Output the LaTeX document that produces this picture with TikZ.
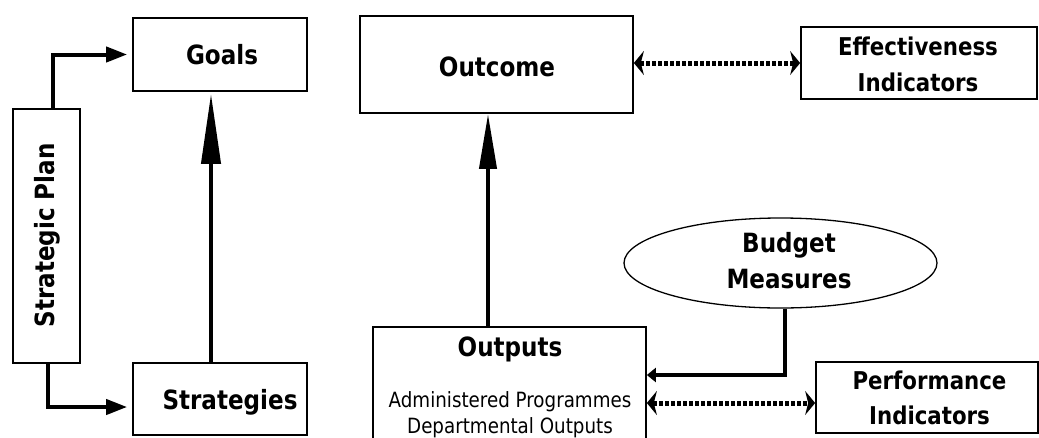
\documentclass[tikz,border=0pt]{standalone}
\usepackage{fontspec}
\setmainfont{DejaVu Sans}[FakeStretch=0.87]
\usetikzlibrary{arrows.meta,shapes.geometric}
\begin{document}
\begin{tikzpicture}[x=1pt,y=-1pt,
  box/.style={draw,line width=1.7pt,inner sep=0pt},
  labbig/.style={font=\fontsize{26.5}{30}\selectfont\bfseries,inner sep=0pt,anchor=base},
  labmid/.style={font=\fontsize{24.5}{28}\selectfont\bfseries,inner sep=0pt,anchor=base},
  labreg/.style={font=\fontsize{21}{24}\selectfont,inner sep=0pt,anchor=base},
  elbowarr/.style={line width=4pt,-{Triangle[length=21pt,width=15pt]}},
  uparrA/.style={line width=4pt,-{Triangle[length=70pt,width=19pt]}},
  uparrB/.style={line width=4pt,-{Triangle[length=55pt,width=17pt]}},
  budarr/.style={line width=3.5pt,-{Triangle[length=9pt,width=14pt]}},
  dotarr/.style={line width=5pt,dash pattern=on 3.5pt off 2.5pt,
    {Stealth[length=10pt,width=24pt,inset=3pt]}-{Stealth[length=10pt,width=24pt,inset=3pt]}}]
\useasboundingbox (0,0) rectangle (1039,437);
\clip (0,0) rectangle (1039,437);

% boxes
\node[box,minimum width=174pt,minimum height=73pt] (goals) at (220,54.5) {};
\node[box,minimum width=174pt,minimum height=72pt] (strategies) at (220,399) {};
\node[box,minimum width=67pt,minimum height=254pt] (plan) at (46.5,236) {};
\node[box,minimum width=273pt,minimum height=97pt] (outcome) at (496.5,64.5) {};
\node[box,minimum width=236pt,minimum height=72pt] (effect) at (919,63) {};
\node[box,minimum width=273pt,minimum height=123pt] (outputs) at (509.5,388.5) {};
\node[box,minimum width=222pt,minimum height=71pt] (perf) at (927,397.5) {};
\node[box,ellipse,line width=1.3pt,minimum width=313pt,minimum height=90pt] (budget) at (780.5,263) {};

% texts
\node[labbig] (tgoals) at (222,64) {Goals};
\node[labbig] (tstrat) at (230,409) {Strategies};
\node[labbig,rotate=90] (tplan) at (54,235.5) {Strategic Plan};
\node[labbig] (toutcome) at (497,76) {Outcome};
\node[labmid] (teff1) at (918,55) {Effectiveness};
\node[labmid] (teff2) at (918,91) {Indicators};
\node[labbig] (tbud1) at (789,252) {Budget};
\node[labbig] (tbud2) at (789,288) {Measures};
\node[labbig] (toutputs) at (510,356) {Outputs};
\node[labreg] (tadm) at (510,407) {Administered Programmes};
\node[labreg] (tdep) at (510,433) {Departmental Outputs};
\node[labmid] (tperf1) at (929.5,389) {Performance};
\node[labmid] (tperf2) at (929.5,424) {Indicators};

% connectors
\draw[elbowarr] ([xshift=6.5pt]plan.north) |- ([xshift=-5pt]goals.west);
\draw[elbowarr] ([xshift=1.5pt]plan.south) |- ([xshift=-5pt,yshift=-8pt]strategies.west);
\draw[uparrA] ([xshift=-9pt]strategies.north) -- ([xshift=-9pt,yshift=-2pt]goals.south);
\coordinate (o1) at ([xshift=-21.5pt]outputs.north);
\draw[uparrB] (o1) -- (o1 |- outcome.south);
\draw[dotarr] (outcome.east |- effect.west) -- (effect.west);
\coordinate (b1) at ([xshift=4.5pt]budget.south);
\draw[budarr] (b1) |- ([yshift=13.5pt]outputs.east);
\coordinate (p1) at ([yshift=-5.5pt]perf.west);
\draw[dotarr] (p1 -| outputs.east) -- (p1);
\end{tikzpicture}
\end{document}
